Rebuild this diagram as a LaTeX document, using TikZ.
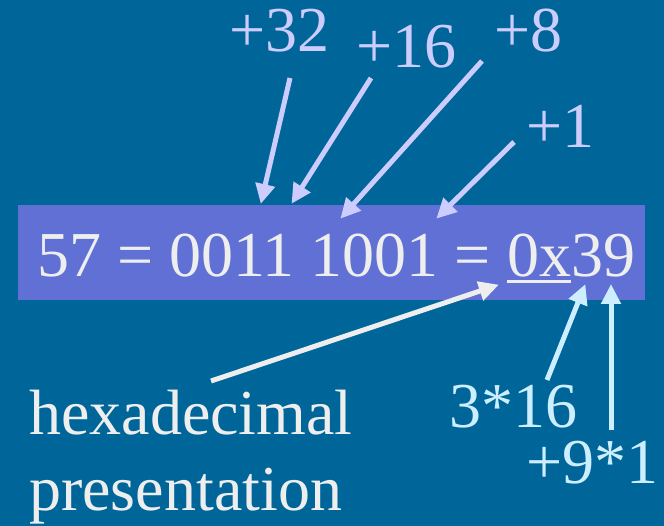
\documentclass[tikz,border=0pt]{standalone}
\usepackage{fontspec}
\setmainfont{Liberation Serif}
\usetikzlibrary{arrows.meta}
\definecolor{bgblue}{RGB}{0,102,153}
\definecolor{boxblue}{RGB}{96,112,212}
\definecolor{txtgray}{RGB}{238,238,238}
\definecolor{lav}{RGB}{204,204,255}
\definecolor{lcyan}{RGB}{204,238,255}
\newcommand{\myuline}[1]{{\setbox0\hbox{#1}\rlap{\rule[-6.5pt]{\wd0}{3pt}}\box0}}
\tikzset{
  lbl/.style={anchor=base west, inner sep=0pt, font=\fontsize{64}{70}\selectfont},
  arr/.style={line width=5pt, -{Triangle[length=20pt,width=19pt]}, shorten >=-1pt},
}
\begin{document}
\begin{tikzpicture}[x=1pt,y=-1pt]
\useasboundingbox (0,0) rectangle (664,526);
\fill[bgblue] (0,0) rectangle (664,526);
\fill[boxblue] (18,205) rectangle (645,300);
\node[lbl, text=txtgray] (main) at (37,277) {57 = 0011 1001 = \myuline{0x}39};
% top labels
\node[lbl, text=lav] (l32) at (229,52) {+32};
\node[lbl, text=lav] (l16) at (356,68) {+16};
\node[lbl, text=lav] (l8) at (494,52) {+8};
\node[lbl, text=lav] (l1) at (526,148) {+1};
% bottom labels
\node[lbl, text=txtgray] (hex) at (29,435) {hexadecimal};
\node[lbl, text=txtgray] (pres) at (29,510) {presentation};
\node[lbl, text=lcyan] (l316) at (449,428) {3*16};
\node[lbl, text=lcyan] (l91) at (526,483) {+9*1};
% arrow ends
\coordinate (s32) at (290,78);  \coordinate (t32) at (261,203);
\coordinate (s16) at (371,78);  \coordinate (t16) at (292,203);
\coordinate (s8) at (482,61);   \coordinate (t8) at (341,218);
\coordinate (s1) at (514,142);  \coordinate (t1) at (437,218);
\coordinate (shex) at (211,381); \coordinate (thex) at (498,285);
\coordinate (s316) at (547,380); \coordinate (t316) at (585,285);
\coordinate (s91) at (611,430);  \coordinate (t91) at (611,285);
\draw[arr, lav] (s32) -- (t32);
\draw[arr, lav] (s16) -- (t16);
\draw[arr, lav] (s8) -- (t8);
\draw[arr, lav] (s1) -- (t1);
\draw[arr, txtgray] (shex) -- (thex);
\draw[arr, lcyan] (s316) -- (t316);
\draw[arr, lcyan] (s91) -- (t91);
\end{tikzpicture}
\end{document}
